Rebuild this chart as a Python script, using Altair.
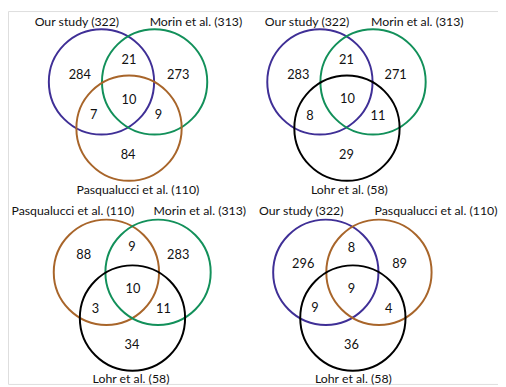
import altair as alt
import pandas as pd

# ---- data ----
set_names = ["Our study", "Morin et al.", "Pasqualucci et al.", "Lohr et al."]
set_sizes = [322, 313, 110, 58]
set_colors = ["#3f2f96", "#12905a", "#a8652a", "#000000"]

# each panel: three sets (A top-left, B top-right, C bottom)
panel_sets = [
    ["Our study", "Morin et al.", "Pasqualucci et al."],
    ["Our study", "Morin et al.", "Lohr et al."],
    ["Pasqualucci et al.", "Morin et al.", "Lohr et al."],
    ["Our study", "Pasqualucci et al.", "Lohr et al."],
]
# region counts per panel: A only, AB, B only, ABC, AC, BC, C only
panel_counts = [
    [284, 21, 273, 10, 7, 9, 84],
    [283, 21, 271, 10, 8, 11, 29],
    [88, 9, 283, 10, 3, 11, 34],
    [296, 8, 89, 9, 9, 4, 36],
]

# ---- layout (pixel geometry within each panel) ----
panel_origin = [(0, 0), (253, 0), (0, 193), (253, 193)]
circle_centers = [
    [(103, 80), (157, 80), (131, 127)],
    [(72, 80), (126, 80), (99.5, 127)],
    [(108, 80.5), (160.5, 80.5), (134.5, 127)],
    [(78, 80.5), (132, 80.5), (105.5, 127)],
]
number_pos = [
    [(81, 73.5), (131, 57.5), (181, 73.5), (131, 98), (95, 114), (161, 114), (130, 154)],
    [(50, 73), (99, 57.5), (149, 73), (100, 97.5), (62, 114.5), (131, 115), (99, 154)],
    [(85, 63), (134, 55), (181, 63), (135, 98), (97, 118), (166, 118), (134, 154)],
    [(55, 72), (104, 56), (153, 72), (104, 98), (67, 117), (142, 118), (104, 154)],
]
label_pos = [
    [(78, 19), (199, 19), (140, 190)],
    [(59, 19), (171, 19), (102, 190)],
    [(74, 18), (203, 18), (133, 189)],
    [(53, 18), (190, 18), (106, 189)],
]

circles, numbers, labels = [], [], []
for p in range(4):
    ox, oy = panel_origin[p]
    for k, name in enumerate(panel_sets[p]):
        cx, cy = circle_centers[p][k]
        circles.append({"x": ox + cx, "y": oy + cy, "set": name})
        lx, ly = label_pos[p][k]
        size = set_sizes[set_names.index(name)]
        labels.append({"x": ox + lx, "y": oy + ly, "text": f"{name} ({size})"})
    for (nx, ny), cnt in zip(number_pos[p], panel_counts[p]):
        numbers.append({"x": ox + nx, "y": oy + ny, "text": str(cnt)})

xs = alt.Scale(domain=[8, 506], range=[0, 498])
ys = alt.Scale(domain=[8, 387], range=[0, 379])
X = lambda: alt.X("x:Q", scale=xs, axis=None)
Y = lambda: alt.Y("y:Q", scale=ys, axis=None)

circ = alt.Chart(pd.DataFrame(circles)).mark_point(
    shape="circle", size=107 * 107, strokeWidth=2, filled=False, opacity=1
).encode(
    x=X(), y=Y(),
    color=alt.Color("set:N", scale=alt.Scale(domain=set_names, range=set_colors), legend=None),
)

nums = alt.Chart(pd.DataFrame(numbers)).mark_text(
    font="Lato", fontSize=13, color="#111111", baseline="middle", align="center"
).encode(x=X(), y=Y(), text="text:N")

labs = alt.Chart(pd.DataFrame(labels)).mark_text(
    font="Lato", fontSize=12.5, color="#111111", baseline="middle", align="center"
).encode(x=X(), y=Y(), text="text:N")

chart = (circ + nums + labs).properties(
    width=498, height=379, padding=0, autosize=alt.AutoSizeParams(type="none")
).configure_view(stroke=None).configure(background="white")

chart.save("out.html", embed_options={"renderer": "svg", "actions": False})
